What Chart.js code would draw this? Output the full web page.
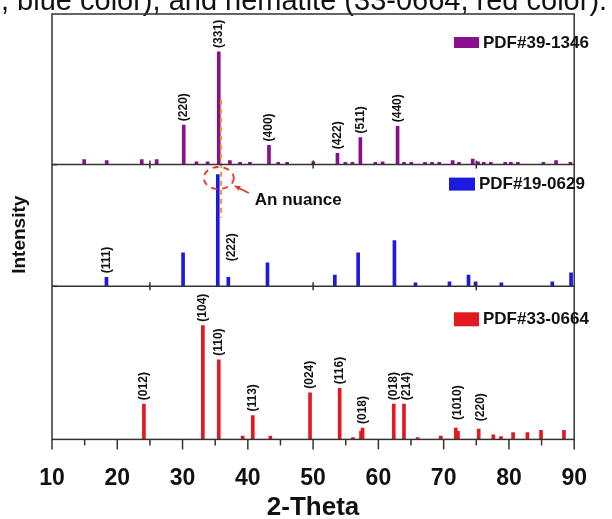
<!DOCTYPE html>
<html>
<head>
<meta charset="utf-8">
<script src="https://cdn.jsdelivr.net/npm/chart.js@4.4.1/dist/chart.umd.min.js"></script>
<style>
  html, body { margin: 0; padding: 0; background: #fff; }
</style>
</head>
<body>
<canvas id="xrd" width="612" height="519"></canvas>
<script>
// maghemite, PDF#39-1346 (top panel)
var mag_theta = [14.93, 18.38, 23.75, 26.04, 30.18, 32.13, 33.84, 35.55, 37.25, 38.81, 40.32, 43.24, 44.66, 46.02, 50.03,
                 53.73, 54.94, 56.03, 57.24, 59.54, 60.65, 62.94, 63.92, 65.03, 67.14, 68.21, 69.33, 71.38, 72.35,
                 74.45, 75.27, 76.15, 77.23, 79.43, 80.3, 81.37, 85.28, 87.22, 89.41];
var mag_int   = [4.5, 3.5, 4.5, 4.5, 35, 2.5, 2.5, 100, 3.5, 2, 2, 17, 2, 2, 2.5,
                 10, 2, 2, 24, 2, 2.5, 34, 2, 2, 2, 2, 2, 3.5, 2,
                 5, 2.5, 2, 2, 2, 2, 2, 2, 3.5, 2];
var mag_hkl   = [["(220)", 30.18], ["(331)", 35.55], ["(400)", 43.24], ["(422)", 53.73], ["(511)", 57.24], ["(440)", 62.94]];

// magnetite, PDF#19-0629 (middle panel)
var fe3o4_theta = [18.34, 30.08, 35.4, 37.01, 43.01, 53.33, 56.9, 62.46, 65.68, 70.89, 73.81, 74.89, 78.84, 86.64, 89.52];
var fe3o4_int   = [8, 30, 100, 8, 21, 10, 30, 41, 3, 4, 10, 4, 3, 4, 12];
var fe3o4_hkl   = [["(111)", 18.34], ["(222)", 37.01]];

// hematite, PDF#33-0664 (bottom panel)
var hem_theta = [24.08, 33.11, 35.55, 39.21, 40.76, 43.45, 49.53, 54.07, 56.11, 57.34, 57.58, 62.36, 63.92,
                 66.01, 69.57, 71.86, 72.2, 75.37, 77.61, 78.78, 80.64, 82.83, 84.92, 88.43];
var hem_int   = [31, 100, 70, 3, 21, 3, 41, 45, 1.5, 7, 10, 31, 31,
                 1.5, 3, 10, 7, 9, 4, 2.5, 6, 6, 8, 8];
var hem_hkl   = [["(012)", 24.08], ["(104)", 33.11], ["(110)", 35.55], ["(113)", 40.76], ["(024)", 49.53], ["(116)", 54.07],
                 ["(018)", 57.58], ["(018)", 62.36], ["(214)", 63.92], ["(1010)", 71.86], ["(220)", 75.37]];

var legend_names = ["PDF#39-1346", "PDF#19-0629", "PDF#33-0664"];
var x_ticks = [10, 20, 30, 40, 50, 60, 70, 80, 90];

var colors = { mag: '#8b0f8b', fe3o4: '#1b1be0', hem: '#e3191f' };
var FONT = '"Liberation Sans", Arial, sans-serif';

function toPoints(theta, inten) {
    return theta.map(function(t, i) { return { x: t, y: inten[i] }; });
}

// label nudges in pixels (label text: [dx, extra lift])
var hklNudge = { "(222)": [3, 12], "(214)": [3, 0], "(1010)": [2, 4], "(220)b": [2, 4] };

var xrdDecor = {
    id: 'xrdDecor',
    afterDraw: function(chart) {
        var ctx = chart.ctx, a = chart.chartArea, xs = chart.scales.x;
        var yTop = chart.scales.yMag, yMid = chart.scales.yFe, yBot = chart.scales.yHem;
        ctx.save();

        // caption line cut off at the top of the figure
        ctx.fillStyle = '#111';
        ctx.font = '29px ' + FONT;
        ctx.textAlign = 'left';
        ctx.textBaseline = 'alphabetic';
        ctx.fillText(', blue color), and hematite (33-0664, red color).', 1, 10);

        // hkl labels
        function drawHkl(list, theta, inten, scale, panel) {
            ctx.font = 'bold 12px ' + FONT;
            ctx.fillStyle = '#111';
            ctx.textAlign = 'left';
            ctx.textBaseline = 'middle';
            list.forEach(function(l) {
                var idx = theta.indexOf(l[1]);
                var key = l[0];
                if (panel === 'hem' && key === '(220)') key = '(220)b';
                var n = hklNudge[key] || [0, 0];
                var px = xs.getPixelForValue(l[1]) + n[0];
                var py = scale.getPixelForValue(inten[idx]) - 4 - n[1];
                ctx.save();
                ctx.translate(px, py);
                ctx.rotate(-Math.PI / 2);
                ctx.fillText(l[0], 0, 0);
                ctx.restore();
            });
        }
        drawHkl(mag_hkl, mag_theta, mag_int, yTop, 'mag');
        drawHkl(fe3o4_hkl, fe3o4_theta, fe3o4_int, yMid, 'fe');
        drawHkl(hem_hkl, hem_theta, hem_int, yBot, 'hem');

        // orange dashed reference line through the strongest peaks
        ctx.strokeStyle = '#f39a3a';
        ctx.lineWidth = 2.2;
        ctx.setLineDash([5, 4]);
        var ox = xs.getPixelForValue(35.89);
        ctx.beginPath();
        ctx.moveTo(ox, yTop.getPixelForValue(57.5));
        ctx.lineTo(ox, yMid.getPixelForValue(61.5));
        ctx.stroke();

        // red dashed ellipse + arrow
        var cx = xs.getPixelForValue(35.55), cy = yMid.getPixelForValue(97);
        ctx.strokeStyle = '#e8322a';
        ctx.lineWidth = 1.8;
        ctx.setLineDash([6, 5]);
        ctx.beginPath();
        ctx.ellipse(cx, cy, 15, 11, 0, 0, Math.PI * 2);
        ctx.stroke();
        ctx.setLineDash([]);
        ctx.lineWidth = 1.5;
        var ax0 = cx + 30, ay0 = cy + 15, ax1 = cx + 16, ay1 = cy + 8;
        ctx.beginPath();
        ctx.moveTo(ax0, ay0);
        ctx.lineTo(ax1, ay1);
        ctx.stroke();
        var ang = Math.atan2(ay1 - ay0, ax1 - ax0);
        ctx.fillStyle = '#e8322a';
        ctx.beginPath();
        ctx.moveTo(ax1, ay1);
        ctx.lineTo(ax1 - 6 * Math.cos(ang - 0.45), ay1 - 6 * Math.sin(ang - 0.45));
        ctx.lineTo(ax1 - 6 * Math.cos(ang + 0.45), ay1 - 6 * Math.sin(ang + 0.45));
        ctx.closePath();
        ctx.fill();
        ctx.fillStyle = '#111';
        ctx.font = 'bold 17px ' + FONT;
        ctx.textAlign = 'left';
        ctx.textBaseline = 'middle';
        ctx.fillText('An nuance', cx + 36, cy + 22);

        // panel frame and dividers
        ctx.strokeStyle = '#333';
        ctx.lineWidth = 1.5;
        ctx.strokeRect(a.left, a.top, a.right - a.left, a.bottom - a.top);
        [yTop.bottom, yMid.bottom].forEach(function(yy) {
            ctx.beginPath();
            ctx.moveTo(a.left, yy);
            ctx.lineTo(a.right, yy);
            ctx.stroke();
            [25, 50, 75].forEach(function(v) {
                var tx = xs.getPixelForValue(v);
                ctx.beginPath();
                ctx.moveTo(tx, yy - 4);
                ctx.lineTo(tx, yy + 4);
                ctx.stroke();
            });
            ctx.beginPath();
            ctx.moveTo(a.left, yy);
            ctx.lineTo(a.left + 5, yy);
            ctx.stroke();
        });

        // bottom axis ticks, major + minor
        for (var v = 10; v <= 90; v += 5) {
            var px = xs.getPixelForValue(v);
            ctx.beginPath();
            ctx.moveTo(px, a.bottom);
            ctx.lineTo(px, a.bottom + (v % 10 === 0 ? 10 : 6));
            ctx.stroke();
        }

        // legends
        var legs = [
            [legend_names[0], colors.mag, yTop.top + 23, 454, 25, 11],
            [legend_names[1], colors.fe3o4, yMid.top + 13, 449, 26, 13],
            [legend_names[2], colors.hem, yBot.top + 26, 454, 25, 14]
        ];
        ctx.font = 'bold 17px ' + FONT;
        ctx.textBaseline = 'middle';
        legs.forEach(function(l) {
            ctx.fillStyle = l[1];
            ctx.fillRect(l[3], l[2], l[4], l[5]);
            ctx.fillStyle = '#111';
            ctx.fillText(l[0], l[3] + l[4] + 4, l[2] + l[5] / 2 + 0.5);
        });

        // axis titles
        ctx.fillStyle = '#111';
        ctx.font = 'bold 26px ' + FONT;
        ctx.textAlign = 'center';
        ctx.textBaseline = 'alphabetic';
        ctx.fillText('2-Theta', (a.left + a.right) / 2, 515);
        ctx.save();
        ctx.translate(25, (a.top + a.bottom) / 2 + 8);
        ctx.rotate(-Math.PI / 2);
        ctx.font = 'bold 19px ' + FONT;
        ctx.fillText('Intensity', 0, 0);
        ctx.restore();

        ctx.restore();
    }
};

var hiddenY = function(max, weight) {
    return {
        type: 'linear', position: 'left', stack: 'xrd', stackWeight: weight,
        min: 0, max: max,
        ticks: { display: false },
        grid: { display: false, drawTicks: false },
        border: { display: false }
    };
};

var barStyle = { barThickness: 3, grouped: false, borderWidth: 0 };

new Chart(document.getElementById('xrd'), {
    type: 'bar',
    data: {
        datasets: [
            Object.assign({ label: legend_names[0], data: toPoints(mag_theta, mag_int), yAxisID: 'yMag', backgroundColor: colors.mag }, barStyle),
            Object.assign({ label: legend_names[1], data: toPoints(fe3o4_theta, fe3o4_int), yAxisID: 'yFe', backgroundColor: colors.fe3o4 }, barStyle),
            Object.assign({ label: legend_names[2], data: toPoints(hem_theta, hem_int), yAxisID: 'yHem', backgroundColor: colors.hem }, barStyle)
        ]
    },
    options: {
        responsive: false,
        animation: false,
        layout: { padding: { left: 52, right: 13, top: 14, bottom: 2 } },
        plugins: { legend: { display: false }, tooltip: { enabled: false } },
        scales: {
            x: {
                type: 'linear', min: 10, max: 90, offset: false,
                afterBuildTicks: function(s) { s.ticks = x_ticks.map(function(v) { return { value: v }; }); },
                ticks: { padding: 25, maxRotation: 0, autoSkip: false, color: '#111', font: { family: FONT, size: 23, weight: 'bold' } },
                grid: { display: false, drawTicks: false },
                border: { display: false }
            },
            // the last one listed is stacked on top
            yHem: hiddenY(134.6, 153.5),
            yFe: hiddenY(109, 122),
            yMag: hiddenY(133.6, 151)
        }
    },
    plugins: [xrdDecor]
});
</script>
</body>
</html>
